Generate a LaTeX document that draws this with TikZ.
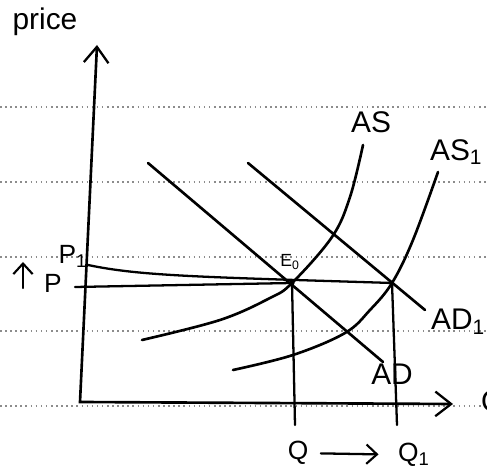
\documentclass[tikz,border=0pt]{standalone}
\usepackage{fontspec}
\setmainfont{Liberation Sans}
\usetikzlibrary{positioning, arrows.meta, calc}
\definecolor{ruleline}{HTML}{8C8C8C}

\begin{document}
\begin{tikzpicture}[
      x=0.02cm, y=-0.02cm,
      every node/.style={inner sep=1pt},
      curve/.style={line width=1.5pt, line cap=round},
      guide/.style={line width=1.3pt, line cap=round},
      ruled/.style={ruleline, dotted, line width=0.9pt},
      lbl/.style={font=\fontsize{17}{19}\selectfont},
      small/.style={font=\fontsize{15}{17}\selectfont},
      >={Straight Barb[length=9pt, width=14pt, line width=1.3pt]},
    ]
    \useasboundingbox (0,0) rectangle (487,475);

    % notebook lines
    \foreach \y in {107,182,257,331,406}
      \draw[ruled] (0,\y) -- (487,\y);

    % axes
    \coordinate (O) at (80,402);
    \coordinate (ytop) at (97,45);
    \coordinate (xend) at (453,404);
    \draw[curve, <->] (ytop) -- (O) -- (xend);
    \node[lbl] (price) at (45,22) {price};
    \node[lbl, anchor=west] (qaxis) at (479,404) {Q};

    % equilibria
    \coordinate (E0) at (292,283);
    \coordinate (E1) at (392,283);
    \fill (E0) circle (2.6);
    \fill (E1) circle (2.0);
    \node[font=\fontsize{10}{11}\selectfont] (e0lbl) at (290,262) {E\textsubscript{0}};

    % AD curves
    \coordinate (ad0a) at (148,163);
    \coordinate (ad0b) at (383,362);
    \coordinate (ad1a) at (248,163);
    \coordinate (ad1b) at (425,310);
    \draw[curve] (ad0a) -- (ad0b);
    \draw[curve] (ad1a) -- (ad1b);
    \node[lbl] (AD) at (392,374) {AD};
    \node[lbl, anchor=west] (AD1) at (429,322) {AD\textsubscript{1}};

    % AS curves
    \draw[curve] plot[smooth, tension=0.6] coordinates
      {(142,340) (220,320) (270,298) (E0) (332,237) (350,197) (363,145)};
    \draw[curve] plot[smooth, tension=0.6] coordinates
      {(233,370) (293,355) (345,333) (370,310) (E1) (413,240) (438,172)};
    \node[lbl] (AS) at (371,122) {AS};
    \node[lbl, anchor=west] (AS1) at (428,152) {AS\textsubscript{1}};

    % price levels
    \coordinate (pstart) at (75,287);
    \coordinate (p1start) at (88,265);
    \draw[guide] (pstart) -- (E0);
    \draw[guide] (p1start) .. controls (140,276) and (200,277) .. (E1);
    \node[small] (P) at (53,283) {P};
    \node[small] (P1) at (73,256) {P\textsubscript{1}};
    \coordinate (up0) at (23,288);
    \coordinate (up1) at (23,262);
    \draw[guide, -{Straight Barb[length=6pt, width=11pt, line width=1.2pt]}] (up0) -- (up1);

    % output levels
    \coordinate (q0) at (295,425);
    \coordinate (q1) at (397,425);
    \draw[guide] (E0) -- (q0);
    \draw[guide] (E1) -- (q1);
    \node[small] (Q) at (298,453) {Q};
    \node[small] (Q1) at (414,455) {Q\textsubscript{1}};
    \draw[guide, -{Straight Barb[length=6pt, width=11pt, line width=1.2pt]},
      shorten <=6pt, shorten >=10pt] (Q) -- (Q1);
  \end{tikzpicture}
\end{document}
